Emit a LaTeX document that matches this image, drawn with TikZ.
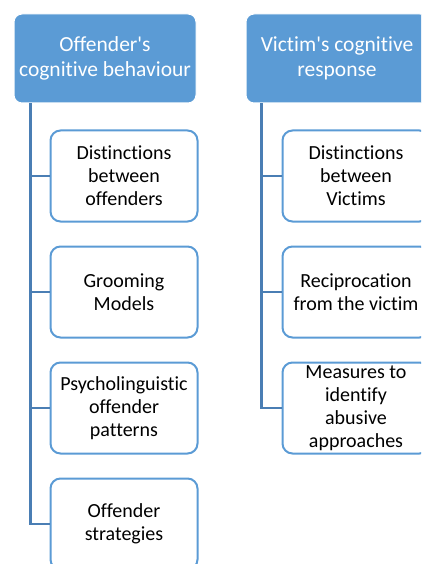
\documentclass[tikz,border=0pt]{standalone}
\usepackage{fontspec}
\setmainfont{Carlito}[Ligatures=NoCommon]
\usepackage{xcolor}
\usepackage{tikz}
\usetikzlibrary{positioning}

\definecolor{headblue}{HTML}{5B9BD5}
\definecolor{linkblue}{HTML}{4A7EB4}

\begin{document}
\begin{tikzpicture}[
    node distance=23pt,
    headbox/.style={
        rectangle,
        rounded corners=8pt,
        draw=white,
        line width=1pt,
        fill=headblue,
        text=white,
        align=center,
        minimum width=182pt,
        minimum height=89pt,
        font=\fontsize{21.5}{24.5}\selectfont
    },
    itembox/.style={
        rectangle,
        rounded corners=10pt,
        draw=headblue,
        line width=2pt,
        fill=white,
        align=center,
        minimum width=147pt,
        minimum height=91pt,
        inner sep=0pt,
        font=\fontsize{20}{23}\selectfont
    },
    link/.style={draw=linkblue, line width=2.5pt}
]

\clip (0,0) rectangle (421pt,-564pt);

\node[headbox] (offhead) at (105pt,-58.5pt) {Offender\textquotesingle s\\cognitive behaviour};
\node[headbox] (vichead) at (337pt,-58.5pt) {Victim\textquotesingle s cognitive\\response};

% offender side
\node[itembox, below right=26pt and 36pt of offhead.south west, anchor=north west] (offdist) {Distinctions\\between\\offenders};
\node[itembox, below=of offdist] (groom) {Grooming\\Models};
\node[itembox, below=of groom] (psycho) {Psycholinguistic\\offender\\patterns};
\node[itembox, below=of psycho] (offstrat) {Offender\\strategies};

% victim side
\node[itembox, below right=26pt and 36pt of vichead.south west, anchor=north west] (vicdist) {Distinctions\\between\\Victims};
\node[itembox, below=of vicdist] (recip) {Reciprocation\\from the victim};
\node[itembox, below=of recip] (measures) {Measures to\\identify\\abusive\\approaches};

\draw[link] ([xshift=17pt]offhead.south west) |- (offdist.west);
\draw[link] ([xshift=17pt]offhead.south west) |- (groom.west);
\draw[link] ([xshift=17pt]offhead.south west) |- (psycho.west);
\draw[link] ([xshift=17pt]offhead.south west) |- (offstrat.west);

\draw[link] ([xshift=16pt]vichead.south west) |- (vicdist.west);
\draw[link] ([xshift=16pt]vichead.south west) |- (recip.west);
\draw[link] ([xshift=16pt]vichead.south west) |- (measures.west);

\end{tikzpicture}
\end{document}
